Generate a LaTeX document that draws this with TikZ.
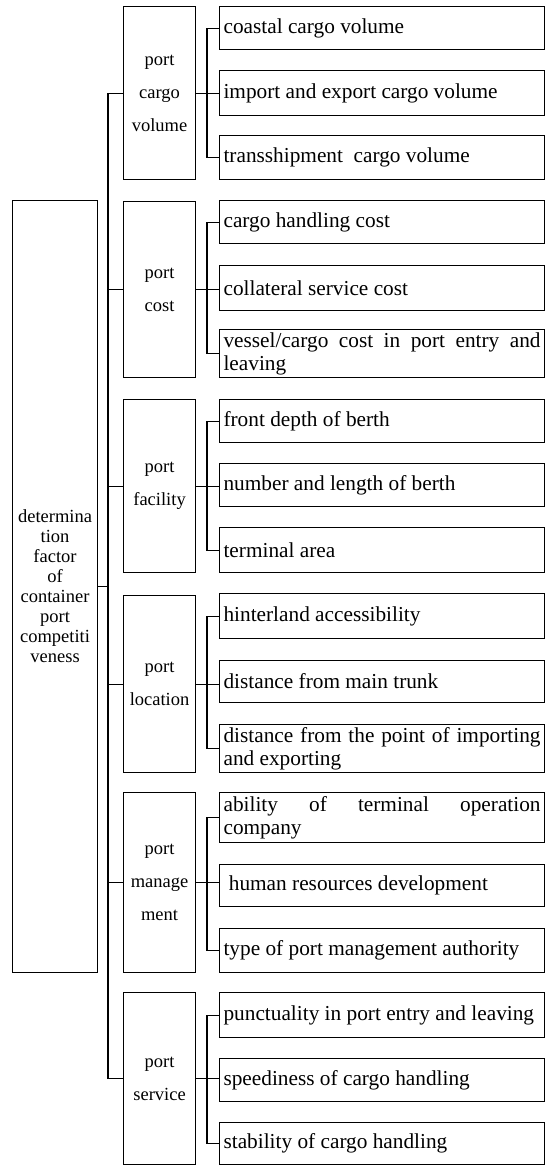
\documentclass[tikz,border=0pt]{standalone}
\usepackage{fontspec}
\setmainfont{Liberation Serif}
\begin{document}
\begin{tikzpicture}[x=1pt,y=-1pt,
  box/.style={draw,line width=1.1pt,rectangle,anchor=north west,inner sep=0pt},
  leaf/.style={box,minimum width=325pt,text width=317pt,align=justify,
    font=\fontsize{21.3}{23}\selectfont},
  mid/.style={box,minimum width=72pt,text width=72pt,align=center,
    font=\fontsize{18.5}{33}\selectfont},
  rootbox/.style={box,minimum width=85pt,text width=85pt,align=center,
    font=\fontsize{18.5}{20}\selectfont},
  link/.style={line width=1.1pt}]
\useasboundingbox (0,0) rectangle (550,1165);
\coordinate (tk) at (108,0);
\coordinate (bx) at (207,0);
% root
\node[rootbox,minimum height=772pt] (root) at (12,200)
  {determina\\tion\\factor\\of\\container\\port\\competiti\\veness};
% mid boxes
\node[mid,minimum height=173pt] (m1) at (123,6) {port\\cargo\\volume};
\node[mid,minimum height=176pt] (m2) at (123,201) {port\\cost};
\node[mid,minimum height=173pt] (m3) at (123,399) {port\\facility};
\node[mid,minimum height=177pt] (m4) at (123,595) {port\\location};
\node[mid,minimum height=180pt] (m5) at (123,792) {port\\manage\\ment};
\node[mid,minimum height=172pt] (m6) at (123,992) {port\\service};
% leaves group 1
\node[leaf,minimum height=43pt] (a1) at (219,6) {coastal cargo volume};
\node[leaf,minimum height=45pt] (a2) at (219,70) {import and export cargo volume};
\node[leaf,minimum height=44pt] (a3) at (219,135) {transshipment\ \ cargo volume};
% group 2
\node[leaf,minimum height=43pt] (b1) at (219,200) {cargo handling cost};
\node[leaf,minimum height=45pt] (b2) at (219,265) {collateral service cost};
\node[leaf,minimum height=48pt] (b3) at (219,329) {vessel/cargo cost in port entry and\linebreak leaving};
% group 3
\node[leaf,minimum height=43pt] (c1) at (219,399) {front depth of berth};
\node[leaf,minimum height=43pt] (c2) at (219,463) {number and length of berth};
\node[leaf,minimum height=45pt] (c3) at (219,527) {terminal area};
% group 4
\node[leaf,minimum height=45pt] (d1) at (219,593) {hinterland accessibility};
\node[leaf,minimum height=42pt] (d2) at (219,660) {distance from main trunk};
\node[leaf,minimum height=48pt] (d3) at (219,724) {distance from the point of importing\linebreak and exporting};
% group 5
\node[leaf,minimum height=50pt] (e1) at (219,792) {ability of terminal operation\linebreak company};
\node[leaf,minimum height=42pt] (e2) at (219,864) {\ human resources development};
\node[leaf,minimum height=44pt] (e3) at (219,928) {type of port management authority};
% group 6
\node[leaf,minimum height=45pt] (f1) at (219,992) {punctuality in port entry and leaving};
\node[leaf,minimum height=43pt] (f2) at (219,1058) {speediness of cargo handling};
\node[leaf,minimum height=42pt] (f3) at (219,1122) {stability of cargo handling};
% trunk
\draw[link] (m1.west -| tk) -- (m6.west -| tk);
\draw[link] (root.east) -- (root.east -| tk);
\foreach \m in {m1,m2,m3,m4,m5,m6}{\draw[link] (\m.west) -- (\m.west -| tk);}
% sub connectors
\foreach \m/\p in {m1/a,m2/b,m3/c,m4/d,m5/e,m6/f}{
  \draw[link] (\p1.west) -- (\p1.west -| bx) -- (\p3.west -| bx) -- (\p3.west);
  \draw[link] (\m.east) -- (\m.east -| \p2.west);
}
\end{tikzpicture}
\end{document}
